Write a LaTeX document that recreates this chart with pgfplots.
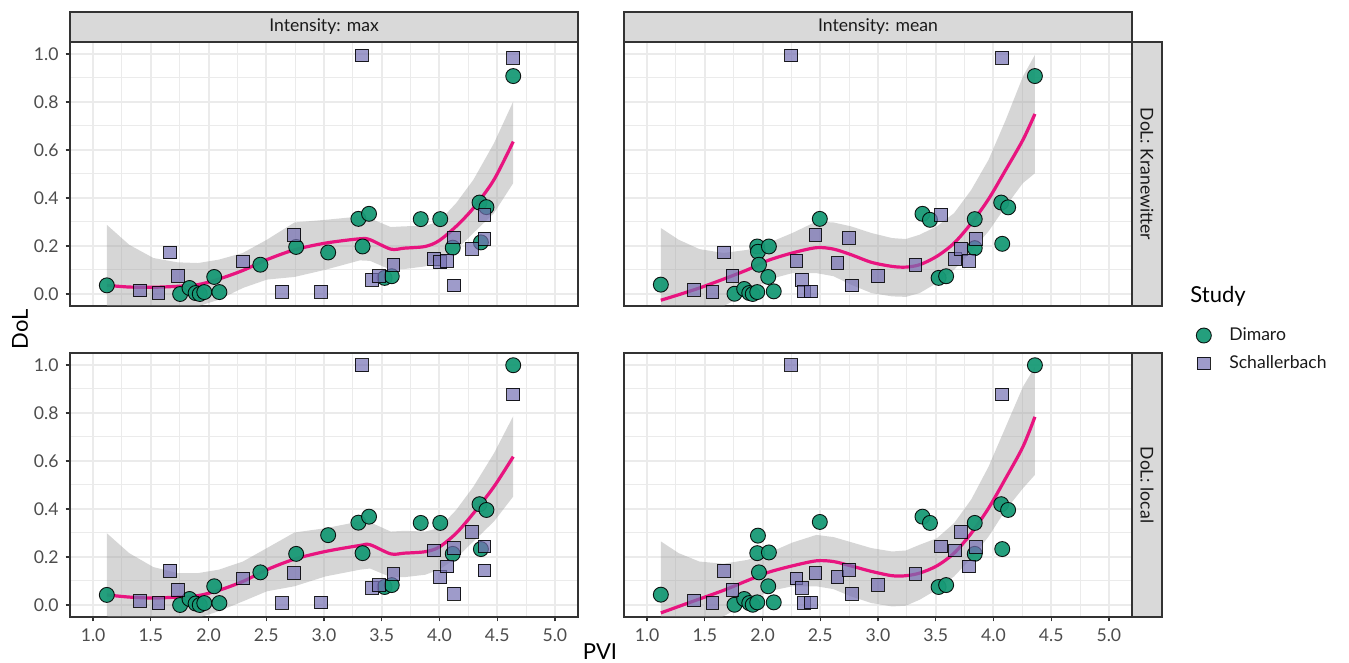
\documentclass[border=0pt]{standalone}
\usepackage{fontspec}
\setmainfont{Lato}
\usepackage{pgfplots}
\pgfplotsset{compat=1.18}
\usepackage{pgfplotstable}
\usepgfplotslibrary{fillbetween}

\definecolor{dimaro}{HTML}{189A76}
\definecolor{sch}{HTML}{7570B3}
\definecolor{smoothc}{HTML}{E8147F}
\definecolor{grid92}{HTML}{EBEBEB}
\definecolor{grey20}{HTML}{333333}
\definecolor{grey30}{HTML}{4D4D4D}
\definecolor{grey10}{HTML}{1A1A1A}
\definecolor{grey85}{HTML}{D9D9D9}
\definecolor{ribbonc}{HTML}{999999}

\pgfplotstableread{
pvi kran local
1.119 0.036 0.042
1.754 0.000 0.000
1.835 0.025 0.025
1.888 0.004 0.006
1.924 0.000 0.000
1.963 0.008 0.008
2.049 0.071 0.078
2.094 0.008 0.008
2.449 0.122 0.136
2.759 0.196 0.213
3.036 0.173 0.291
3.298 0.313 0.343
3.390 0.334 0.368
3.334 0.198 0.216
3.525 0.067 0.075
3.587 0.074 0.083
3.838 0.312 0.342
4.007 0.312 0.342
4.115 0.193 0.213
4.347 0.381 0.420
4.407 0.362 0.396
4.359 0.215 0.233
4.639 0.908 0.999
}\dimMax

\pgfplotstableread{
pvi kran local
1.408 0.015 0.017
1.566 0.004 0.007
1.668 0.173 0.143
1.736 0.076 0.064
2.300 0.136 0.111
2.741 0.247 0.133
2.639 0.010 0.008
2.976 0.010 0.011
3.328 0.994 0.999
3.417 0.060 0.071
3.474 0.074 0.082
3.602 0.122 0.129
3.951 0.147 0.227
4.007 0.132 0.116
4.067 0.139 0.161
4.124 0.236 0.237
4.127 0.036 0.047
4.282 0.189 0.305
4.389 0.330 0.244
4.389 0.230 0.144
4.639 0.985 0.877
}\schMax

\pgfplotstableread{
pvi kran local
1.119 0.039 0.043
1.757 0.001 0.001
1.841 0.021 0.025
1.885 0.004 0.008
1.915 0.000 0.001
1.954 0.008 0.011
1.954 0.198 0.216
1.960 0.176 0.289
1.969 0.122 0.136
2.055 0.198 0.219
2.049 0.071 0.078
2.097 0.011 0.011
2.496 0.313 0.346
3.385 0.334 0.368
3.450 0.309 0.342
3.525 0.067 0.075
3.590 0.074 0.083
3.838 0.312 0.342
3.838 0.191 0.213
4.067 0.381 0.420
4.127 0.361 0.396
4.076 0.209 0.233
4.359 0.908 0.999
}\dimMean

\pgfplotstableread{
pvi kran local
1.408 0.018 0.019
1.566 0.007 0.008
1.668 0.173 0.143
1.739 0.076 0.064
2.249 0.994 1.000
2.294 0.139 0.111
2.338 0.060 0.071
2.356 0.011 0.008
2.416 0.011 0.011
2.458 0.247 0.133
2.648 0.129 0.116
2.747 0.233 0.147
2.771 0.036 0.047
2.997 0.074 0.083
3.325 0.122 0.129
3.548 0.330 0.244
3.668 0.147 0.227
3.718 0.189 0.305
3.787 0.139 0.161
3.846 0.230 0.241
4.076 0.985 0.877
}\schMean

% loess fits: x fit lo hi
\pgfplotstableread{
x fit lo hi
1.119 0.036 -0.060 0.288
1.313 0.029 -0.090 0.205
1.522 0.028 -0.100 0.150
1.730 0.032 -0.072 0.132
1.909 0.039 -0.051 0.129
2.088 0.062 -0.024 0.143
2.297 0.098 0.025 0.171
2.505 0.143 0.060 0.226
2.744 0.184 0.071 0.298
3.012 0.212 0.101 0.309
3.310 0.230 0.140 0.323
3.399 0.226 0.138 0.315
3.578 0.187 0.101 0.279
3.697 0.191 0.104 0.282
3.876 0.198 0.115 0.284
3.996 0.222 0.143 0.302
4.145 0.282 0.184 0.379
4.294 0.358 0.254 0.476
4.472 0.476 0.337 0.628
4.639 0.635 0.462 0.802
}\fitMaxKr

\pgfplotstableread{
x fit lo hi
1.119 0.042 -0.047 0.299
1.313 0.033 -0.075 0.216
1.522 0.029 -0.080 0.158
1.730 0.033 -0.075 0.133
1.909 0.039 -0.054 0.133
2.088 0.061 -0.026 0.147
2.297 0.098 0.015 0.181
2.505 0.147 0.057 0.237
2.744 0.191 0.078 0.302
3.012 0.223 0.119 0.320
3.310 0.248 0.147 0.348
3.399 0.251 0.152 0.345
3.578 0.213 0.116 0.306
3.697 0.216 0.116 0.309
3.876 0.222 0.126 0.306
3.996 0.241 0.147 0.320
4.145 0.299 0.195 0.396
4.294 0.382 0.265 0.493
4.472 0.493 0.348 0.632
4.639 0.618 0.452 0.787
}\fitMaxLo

\pgfplotstableread{
x fit lo hi
1.119 -0.026 -0.100 0.275
1.274 -0.003 -0.100 0.226
1.453 0.025 -0.090 0.187
1.662 0.062 -0.051 0.171
1.870 0.101 0.004 0.184
2.049 0.140 0.060 0.212
2.258 0.171 0.087 0.254
2.466 0.193 0.087 0.302
2.615 0.187 0.074 0.298
2.765 0.164 0.039 0.282
2.943 0.132 0.004 0.254
3.122 0.115 -0.010 0.233
3.241 0.112 -0.012 0.229
3.361 0.122 0.004 0.247
3.510 0.157 0.046 0.282
3.659 0.212 0.101 0.337
3.808 0.295 0.178 0.434
3.957 0.395 0.261 0.559
4.106 0.517 0.365 0.725
4.255 0.642 0.462 0.906
4.359 0.750 0.503 0.996
}\fitMeanKr

\pgfplotstableread{
x fit lo hi
1.119 -0.033 -0.100 0.265
1.274 -0.006 -0.100 0.216
1.453 0.025 -0.090 0.181
1.662 0.061 -0.047 0.172
1.870 0.102 0.008 0.188
2.049 0.136 0.057 0.216
2.258 0.163 0.078 0.260
2.466 0.184 0.078 0.292
2.615 0.181 0.066 0.283
2.765 0.163 0.036 0.262
2.943 0.140 0.008 0.237
3.122 0.122 -0.006 0.223
3.241 0.122 -0.003 0.227
3.361 0.133 0.022 0.251
3.510 0.163 0.064 0.278
3.659 0.216 0.119 0.341
3.808 0.299 0.195 0.440
3.957 0.403 0.285 0.576
4.106 0.528 0.396 0.742
4.255 0.659 0.486 0.909
4.359 0.784 0.542 0.992
}\fitMeanLo

\pgfplotsset{
  panel/.style={
    scale only axis, width=254pt, height=132pt, anchor=south west,
    xmin=0.8, xmax=5.2, ymin=-0.05, ymax=1.05,
    xtick={1,1.5,2,2.5,3,3.5,4,4.5,5},
    ytick={0,0.2,0.4,0.6,0.8,1},
    minor xtick={1.25,1.75,2.25,2.75,3.25,3.75,4.25,4.75},
    minor ytick={0.1,0.3,0.5,0.7,0.9},
    grid=both,
    major grid style={grid92, line width=1pt},
    minor grid style={grid92, line width=0.5pt},
    axis line style={grey20, line width=0.6pt},
    tick style={grey20, line width=0.6pt},
    major tick length=2.2pt, minor tick length=0pt,
    tick align=outside,
    xtick pos=left, ytick pos=left,
    xticklabel style={font=\fontsize{8.8}{10}\selectfont, text=grey30,
      /pgf/number format/.cd, fixed, fixed zerofill, precision=1, assume math mode=true},
    yticklabel style={font=\fontsize{8.8}{10}\selectfont, text=grey30,
      /pgf/number format/.cd, fixed, fixed zerofill, precision=1, assume math mode=true},
  },
  notop/.style={xticklabels={}, xtick style={draw=none}},
  noleft/.style={yticklabels={}, ytick style={draw=none}},
  ribbon/.style={fill=ribbonc, fill opacity=0.4, draw=none},
  fitline/.style={smoothc, line width=1.6pt, smooth, tension=0.5},
  dimmark/.style={only marks, mark=*, mark size=3.75pt,
    mark options={fill=dimaro, fill opacity=0.95, draw=black, draw opacity=0.9, line width=0.45pt}},
  schmark/.style={only marks, mark=square*, mark size=3.2pt,
    mark options={fill=sch, fill opacity=0.7, draw=black, draw opacity=0.85, line width=0.45pt}},
}

\begin{document}
\begin{tikzpicture}

% top-left: max / Kranewitter
\begin{axis}[panel, notop, at={(35pt,178.5pt)}]
\addplot[name path=hi, draw=none] table[x=x,y=hi]{\fitMaxKr};
\addplot[name path=lo, draw=none] table[x=x,y=lo]{\fitMaxKr};
\addplot[ribbon] fill between[of=hi and lo];
\addplot[fitline] table[x=x,y=fit]{\fitMaxKr};
\addplot[dimmark] table[x=pvi,y=kran]{\dimMax};
\addplot[schmark] table[x=pvi,y=kran]{\schMax};
\end{axis}

% top-right: mean / Kranewitter
\begin{axis}[panel, notop, noleft, at={(312pt,178.5pt)},
  legend style={at={(1.114,-0.05)}, anchor=north west, draw=none, fill=none,
    font=\fontsize{8.8}{10}\selectfont, row sep=2pt, column sep=7pt, text=grey10},
  legend cell align=left,
  legend image code/.code={\draw[#1] plot coordinates {(0.2cm,0cm)};}]
\addlegendimage{dimmark}
\addlegendentry{Dimaro}
\addlegendimage{schmark}
\addlegendentry{Schallerbach}
\addplot[name path=hi, draw=none] table[x=x,y=hi]{\fitMeanKr};
\addplot[name path=lo, draw=none] table[x=x,y=lo]{\fitMeanKr};
\addplot[ribbon] fill between[of=hi and lo];
\addplot[fitline] table[x=x,y=fit]{\fitMeanKr};
\addplot[dimmark] table[x=pvi,y=kran]{\dimMean};
\addplot[schmark] table[x=pvi,y=kran]{\schMean};
\end{axis}

% bottom-left: max / local
\begin{axis}[panel, at={(35pt,23pt)}]
\addplot[name path=hi, draw=none] table[x=x,y=hi]{\fitMaxLo};
\addplot[name path=lo, draw=none] table[x=x,y=lo]{\fitMaxLo};
\addplot[ribbon] fill between[of=hi and lo];
\addplot[fitline] table[x=x,y=fit]{\fitMaxLo};
\addplot[dimmark] table[x=pvi,y=local]{\dimMax};
\addplot[schmark] table[x=pvi,y=local]{\schMax};
\end{axis}

% bottom-right: mean / local
\begin{axis}[panel, noleft, at={(312pt,23pt)}]
\addplot[name path=hi, draw=none] table[x=x,y=hi]{\fitMeanLo};
\addplot[name path=lo, draw=none] table[x=x,y=lo]{\fitMeanLo};
\addplot[ribbon] fill between[of=hi and lo];
\addplot[fitline] table[x=x,y=fit]{\fitMeanLo};
\addplot[dimmark] table[x=pvi,y=local]{\dimMean};
\addplot[schmark] table[x=pvi,y=local]{\schMean};
\end{axis}

% strips
\begin{scope}[line width=0.6pt]
\draw[grey20, fill=grey85] (35pt,310.5pt) rectangle (289pt,325.5pt);
\draw[grey20, fill=grey85] (312pt,310.5pt) rectangle (566pt,325.5pt);
\draw[grey20, fill=grey85] (566pt,178.5pt) rectangle (581pt,310.5pt);
\draw[grey20, fill=grey85] (566pt,23pt) rectangle (581pt,155pt);
\end{scope}
\begin{scope}[every node/.style={font=\fontsize{8.8}{10}\selectfont, text=grey10, inner sep=0pt}]
\node at (162pt,318pt) {Intensity: max};
\node at (439pt,318pt) {Intensity: mean};
\node[rotate=-90] at (573.5pt,244.5pt) {DoL: Kranewitter};
\node[rotate=-90] at (573.5pt,89pt) {DoL: local};
\end{scope}

% axis titles
\node[rotate=90, font=\fontsize{11}{13}\selectfont, inner sep=0pt] at (10pt,166.75pt) {DoL};
\node[font=\fontsize{11}{13}\selectfont, inner sep=0pt] at (300pt,5.5pt) {PVI};

% legend title
\node[anchor=west, font=\fontsize{11}{13}\selectfont, inner sep=0pt] at (595pt,183.5pt) {Study};

\pgfresetboundingbox
\useasboundingbox (0pt,0pt) rectangle (674.5pt,331.5pt);
\end{tikzpicture}
\end{document}
